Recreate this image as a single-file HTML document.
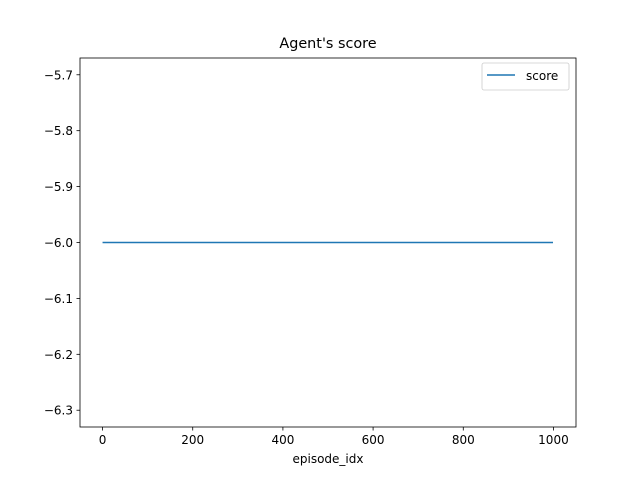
<!DOCTYPE html>
<html><head><meta charset="utf-8"><style>
html,body{margin:0;padding:0;background:#fff;}
svg{display:block;font-family:"DejaVu Sans","Liberation Sans",sans-serif;}
</style></head><body>
<svg id="chart" width="640" height="480" viewBox="0 0 640 480">
<rect width="640" height="480" fill="#fff"/>
<text x="328" y="48" font-size="14.4" text-anchor="middle">Agent's score</text>
<g id="plot"></g>
<rect x="80" y="58" width="496" height="369" fill="none" stroke="#000" stroke-width="0.8"/>
<text x="328" y="463" font-size="12" text-anchor="middle">episode_idx</text>
<g>
<rect x="482" y="63" width="87" height="27" rx="2" fill="#fff" fill-opacity="0.8" stroke="#ccc" stroke-width="0.8"/>
<line x1="487" y1="75" x2="515" y2="75" stroke="#1f77b4" stroke-width="1.5"/>
<text x="526" y="80" font-size="12">score</text>
</g>
</svg>
<script>
const episodes = [0, 999];
const scores = [-6, -6];
const xTicks = [0, 200, 400, 600, 800, 1000];
const yTicks = [-5.7, -5.8, -5.9, -6.0, -6.1, -6.2, -6.3];

const NS = "http://www.w3.org/2000/svg";
const L = 80, R = 576, T = 58, B = 427;
const xMin = -50, xMax = 1050, yMin = -6.33, yMax = -5.67;
const xs = v => L + (v - xMin) / (xMax - xMin) * (R - L);
const ys = v => B - (v - yMin) / (yMax - yMin) * (B - T);
const g = document.getElementById('plot');
function mk(tag, attrs) { const e = document.createElementNS(NS, tag); for (const k in attrs) e.setAttribute(k, attrs[k]); g.appendChild(e); return e; }

xTicks.forEach(v => {
  const x = xs(v);
  const t = mk('line', {x1: x, x2: x, y1: B, y2: B + 3.5, stroke: '#000', 'stroke-width': 0.8});
  
  
  const l = mk('text', {x: x, y: B + 17, 'font-size': 12, 'text-anchor': 'middle'});
  l.textContent = String(v);
  
  
});
yTicks.forEach(v => {
  const y = ys(v);
  const t = mk('line', {x1: L - 3.5, x2: L, y1: y, y2: y, stroke: '#000', 'stroke-width': 0.8});
  
  
  const l = mk('text', {x: L - 7, y: y + 4.5, 'font-size': 12, 'text-anchor': 'end'});
  l.textContent = '\u2212' + Math.abs(v).toFixed(1);
  
  
});
const pts = episodes.map((e, i) => xs(e) + ',' + ys(scores[i])).join(' ');
const line = mk('polyline', {points: pts, fill: 'none', stroke: '#1f77b4', 'stroke-width': 1.5});


</script>
</body></html>
